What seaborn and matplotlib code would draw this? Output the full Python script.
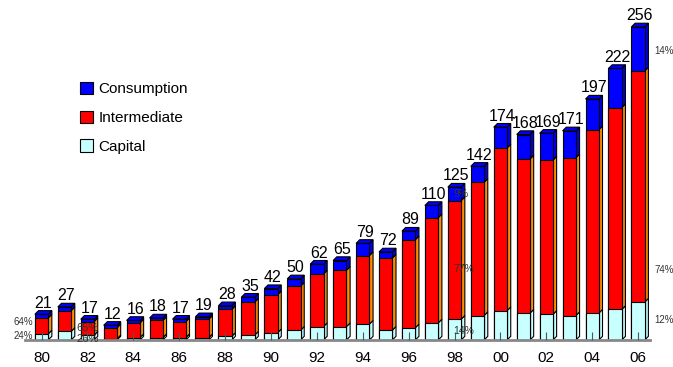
import numpy as np
import pandas as pd
import matplotlib
matplotlib.use("Agg")
import matplotlib.pyplot as plt
from matplotlib.patches import Polygon, Patch
import seaborn as sns

years = ["80", "81", "82", "83", "84", "85", "86", "87", "88", "89", "90", "91", "92", "93",
         "94", "95", "96", "97", "98", "99", "00", "01", "02", "03", "04", "05", "06"]
capital = [5, 7, 4, 1, 2, 2, 2, 2, 3, 4, 6, 8, 11, 11, 13, 8, 10, 14, 17, 20, 24, 22, 21, 20, 22, 25, 31]
intermediate = [13, 17, 11, 9, 12, 14, 13, 15, 22, 27, 31, 36, 43, 46, 56, 59, 72, 86, 97, 109, 133, 126, 126, 129, 150, 165, 189]
consumption = [3, 3, 2, 2, 2, 2, 2, 2, 3, 4, 5, 6, 8, 8, 10, 5, 7, 10, 11, 13, 17, 20, 22, 22, 25, 32, 36]
totals = [21, 27, 17, 12, 16, 18, 17, 19, 28, 35, 42, 50, 62, 65, 79, 72, 89, 110, 125, 142, 174, 168, 169, 171, 197, 222, 256]
tick_years = ["80", "82", "84", "86", "88", "90", "92", "94", "96", "98", "00", "02", "04", "06"]

# share labels shown for a few years: (year, text, value position, side)
share_labels = [("80", "64%", 15, "left"), ("80", "24%", 3, "left"),
                ("82", "65%", 10, "mid"), ("82", "26%", 1, "mid"),
                ("98", "9%", 119, "right"), ("98", "77%", 58, "right"), ("98", "14%", 7, "right"),
                ("06", "14%", 236, "out"), ("06", "74%", 57, "out"), ("06", "12%", 16, "out")]

BLUE = "#0000FF"
RED = "#FF0000"
CAP = "#C8FFFF"
SIDE_RED = "#FF8C00"
SIDE_BLUE = "#0000E0"

df = pd.DataFrame({"year": years, "capital": capital, "intermediate": intermediate,
                   "consumption": consumption})
df["cap_int"] = df["capital"] + df["intermediate"]
df["total"] = df["cap_int"] + df["consumption"]

plt.rcParams["font.family"] = ["Liberation Sans", "DejaVu Sans"]

fig = plt.figure(figsize=(6.73, 3.67), dpi=100)
ax = fig.add_axes([25 / 673, 1 - 340 / 367, 625 / 673, 318 / 367])

width = 0.58
sns.barplot(data=df, x="year", y="total", color=BLUE, saturation=1, width=width,
            edgecolor="black", linewidth=0.8, ax=ax, zorder=2)
sns.barplot(data=df, x="year", y="cap_int", color=RED, saturation=1, width=width,
            edgecolor="black", linewidth=0.8, ax=ax, zorder=2)
sns.barplot(data=df, x="year", y="capital", color=CAP, saturation=1, width=width,
            edgecolor="black", linewidth=0.8, ax=ax, zorder=2)

# 3D depth for each bar: side faces and top face
dx, dy = 0.16, 3.0
n = len(years)
front = ax.patches
for i in range(n):
    x0 = front[i].get_x()
    x1 = x0 + front[i].get_width()
    segs = [(0, df["capital"][i], CAP), (df["capital"][i], df["cap_int"][i], SIDE_RED),
            (df["cap_int"][i], df["total"][i], SIDE_BLUE)]
    for lo, hi, col in segs:
        ax.add_patch(Polygon([(x1, lo), (x1 + dx, lo + dy), (x1 + dx, hi + dy), (x1, hi)],
                             closed=True, facecolor=col, edgecolor="black", linewidth=0.8, zorder=1.9))
    top = df["total"][i]
    ax.add_patch(Polygon([(x0, top), (x1, top), (x1 + dx, top + dy), (x0 + dx, top + dy)],
                         closed=True, facecolor=BLUE, edgecolor="black", linewidth=0.8, zorder=1.9))
    ax.text(i + dx / 2, top + dy, str(totals[i]), ha="center", va="bottom", fontsize=11.5,
            color="black", clip_on=False, zorder=3)

for yr, txt, yv, side in share_labels:
    i = years.index(yr)
    if side == "left":
        ax.text(i - 0.38, yv, txt, ha="right", va="center", fontsize=7, color="#333333")
    elif side == "mid":
        ax.text(i, yv, txt, ha="center", va="center", fontsize=8, color="#333333", zorder=3)
    elif side == "right":
        ax.text(i - 0.05, yv, txt, ha="left", va="center", fontsize=7.5, color="#333333", zorder=3)
    else:
        ax.text(i + 0.7, yv, txt, ha="left", va="center", fontsize=7, color="#333333")

ax.set_xlim(-0.72, 26.52)
ax.set_ylim(0, 260)
ax.set_xticks([years.index(t) for t in tick_years])
ax.set_xticklabels(tick_years, fontsize=11)
ax.tick_params(axis="x", direction="in", length=6, width=0.8, color="#555555", pad=8)
ax.set_yticks([])
ax.set_xlabel("")
ax.set_ylabel("")
for s in ["top", "right", "left"]:
    ax.spines[s].set_visible(False)
ax.spines["bottom"].set_color("#888888")
ax.spines["bottom"].set_linewidth(2)
ax.set_axisbelow(False)

handles = [Patch(facecolor=BLUE, edgecolor="black", linewidth=0.8, label="Consumption"),
           Patch(facecolor=RED, edgecolor="black", linewidth=0.8, label="Intermediate"),
           Patch(facecolor=CAP, edgecolor="black", linewidth=0.8, label="Capital")]
fig.legend(handles=handles, loc="upper left", bbox_to_anchor=(72 / 673, 1 - 74 / 367),
           frameon=False, fontsize=11, handlelength=0.85, handleheight=0.85,
           handletextpad=0.4, labelspacing=0.95, borderpad=0)

fig.savefig("out.png", dpi=100)
